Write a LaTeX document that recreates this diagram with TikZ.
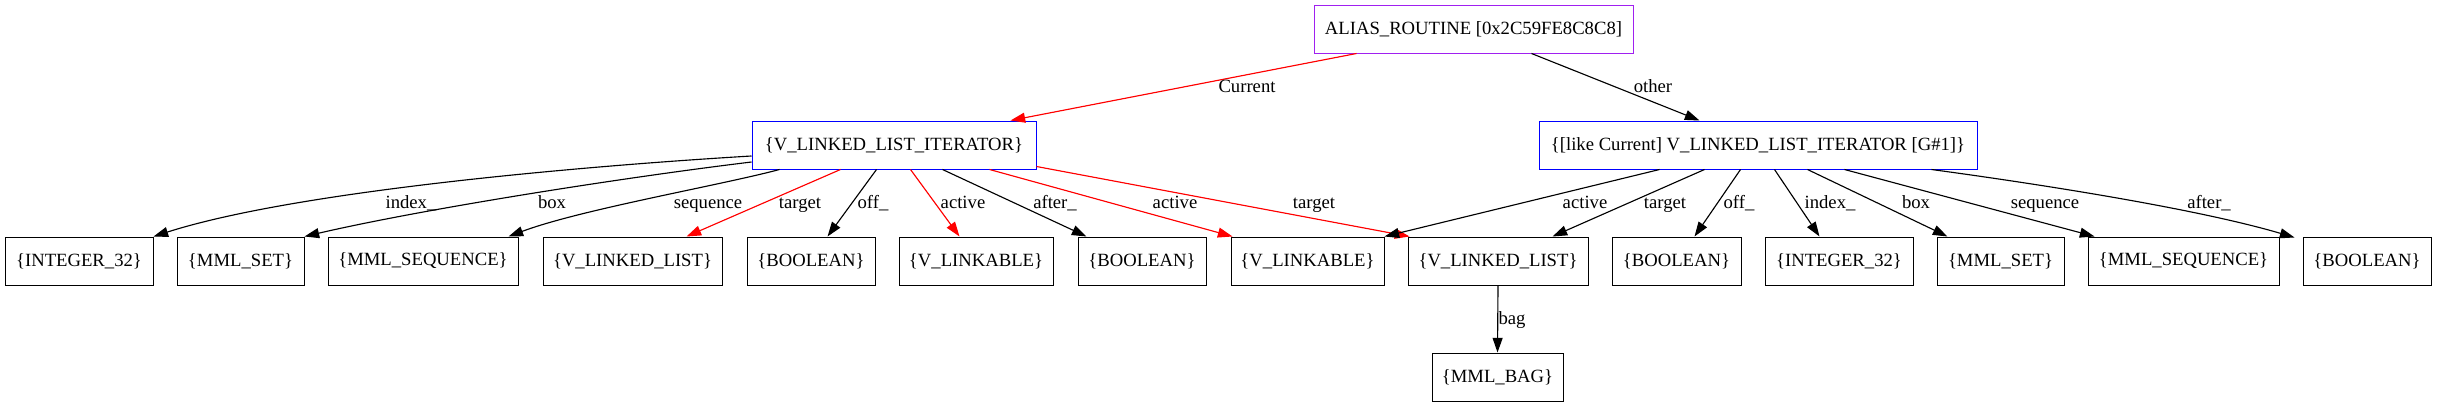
\documentclass[tikz,border=0pt]{standalone}
\usepackage{fontspec}
\setmainfont{Liberation Serif}
\usetikzlibrary{arrows.meta,calc}
\definecolor{gvpurple}{HTML}{A020F0}
\definecolor{gvblue}{HTML}{0000FF}
\definecolor{gvred}{HTML}{FF0000}
\begin{document}
\begin{tikzpicture}[x=0.75pt,y=-0.75pt,
  font=\fontsize{14pt}{16pt}\selectfont,
  box/.style={draw, line width=0.75pt, rectangle, minimum height=36pt, inner sep=0pt},
  edge/.style={line width=0.85pt, -{Triangle[length=11pt,width=7.5pt]}},
  redge/.style={edge, draw=gvred, fill=gvred},
  lbl/.style={inner sep=0pt, anchor=base}]
\useasboundingbox (0,0) rectangle (2437,407);
% nodes
\node[box, draw=gvpurple, minimum width=239.25pt] (alias) at (1473.5,29) {ALIAS\_ROUTINE [0x2C59FE8C8C8]};
\node[box, draw=gvblue, minimum width=213pt] (it) at (894,145) {\{V\_LINKED\_LIST\_ITERATOR\}};
\node[box, draw=gvblue, minimum width=328.5pt] (like) at (1758,145) {\{[like Current] V\_LINKED\_LIST\_ITERATOR [G\#1]\}};
\node[box, minimum width=111pt] (i1) at (79,261) {\{INTEGER\_32\}};
\node[box, minimum width=95.25pt] (s1) at (240.5,261) {\{MML\_SET\}};
\node[box, minimum width=142.5pt] (q1) at (423,261) {\{MML\_SEQUENCE\}};
\node[box, minimum width=134.25pt] (l1) at (632.5,261) {\{V\_LINKED\_LIST\}};
\node[box, minimum width=96pt] (b1) at (811,261) {\{BOOLEAN\}};
\node[box, minimum width=115.5pt] (k1) at (976,261) {\{V\_LINKABLE\}};
\node[box, minimum width=96pt] (b2) at (1142,261) {\{BOOLEAN\}};
\node[box, minimum width=114.75pt] (k2) at (1307.5,261) {\{V\_LINKABLE\}};
\node[box, minimum width=135pt] (l2) at (1498,261) {\{V\_LINKED\_LIST\}};
\node[box, minimum width=96.75pt] (b3) at (1676.5,261) {\{BOOLEAN\}};
\node[box, minimum width=111pt] (i2) at (1839,261) {\{INTEGER\_32\}};
\node[box, minimum width=95.25pt] (s2) at (2000.5,261) {\{MML\_SET\}};
\node[box, minimum width=143.25pt] (q2) at (2183.5,261) {\{MML\_SEQUENCE\}};
\node[box, minimum width=96pt] (b4) at (2367,261) {\{BOOLEAN\}};
\node[box, minimum width=98.25pt] (bag) at (1497.5,377) {\{MML\_BAG\}};
% edges from alias
\draw[redge] ($(alias.south west)+(43,0)$) -- ($(it.north east)+(-26,0)$);
\draw[edge] ($(alias.south west)+(218,0)$) -- ($(like.north west)+(161,0)$);
% edges from it
\draw[edge] ($(it.west)+(0,11)$) .. controls ($(it.west)+(-152,20)$) and ($(i1.north east)+(147,-47)$) .. (i1.north east);
\draw[edge] ($(it.west)+(0,17)$) .. controls ($(it.west)+(-132,33)$) and ($(s1.north east)+(116,-27)$) .. (s1.north east);
\draw[edge] ($(it.south west)+(28,0)$) .. controls ($(it.south west)+(-32,16)$) and ($(q1.north east)+(62,-27)$) .. ($(q1.north east)+(-10,0)$);
\draw[redge] ($(it.south west)+(89,0)$) -- ($(l1.north west)+(144,0)$);
\draw[edge] ($(it.south west)+(125,0)$) -- ($(b1.north west)+(81,0)$);
\draw[redge] ($(it.south west)+(159,0)$) -- ($(k1.north west)+(61,0)$);
\draw[edge] ($(it.south west)+(191,0)$) -- ($(b2.north west)+(9,0)$);
\draw[redge] ($(it.south west)+(238,0)$) -- ($(k2.north west)+(2,0)$);
\draw[redge] ($(it.south east)+(0,-3)$) -- ($(l2.north west)+(2,0)$);
% edges from like
\draw[edge] ($(like.south west)+(121,0)$) -- (k2.north east);
\draw[edge] ($(like.south west)+(166,0)$) -- ($(l2.north west)+(145,0)$);
\draw[edge] ($(like.south west)+(202,0)$) -- ($(b3.north west)+(83,0)$);
\draw[edge] ($(like.south west)+(236,0)$) -- ($(i2.north west)+(55,0)$);
\draw[edge] ($(like.south west)+(269,0)$) -- ($(s2.north west)+(11,0)$);
\draw[edge] ($(like.south west)+(306,0)$) -- ($(q2.north west)+(7,0)$);
\draw[edge] ($(like.south west)+(393,0)$) .. controls ($(like.south west)+(511,16)$) and ($(b4.north west)+(-103,-27)$) .. ($(b4.north west)+(-8,1)$);
% bag
\draw[edge] (l2.south) -- (bag.north);
% labels
\node[lbl] (lcur) at (1247,92) {Current};
\node[lbl] (loth) at (1653,92) {other};
\node[lbl] (la1) at (411,208) {index\_};
\node[lbl] (la2) at (552,208) {box};
\node[lbl] (la3) at (708,208) {sequence};
\node[lbl] (la4) at (800,208) {target};
\node[lbl] (la5) at (873,208) {off\_};
\node[lbl] (la6) at (963,208) {active};
\node[lbl] (la7) at (1055,208) {after\_};
\node[lbl] (la8) at (1175,208) {active};
\node[lbl] (la9) at (1314,208) {target};
\node[lbl] (lb1) at (1585,208) {active};
\node[lbl] (lb2) at (1665,208) {target};
\node[lbl] (lb3) at (1739,208) {off\_};
\node[lbl] (lb4) at (1830,208) {index\_};
\node[lbl] (lb5) at (1916,208) {box};
\node[lbl] (lb6) at (2045,208) {sequence};
\node[lbl] (lb7) at (2209,208) {after\_};
\node[lbl] (lbag) at (1512,324) {bag};
\end{tikzpicture}
\end{document}
